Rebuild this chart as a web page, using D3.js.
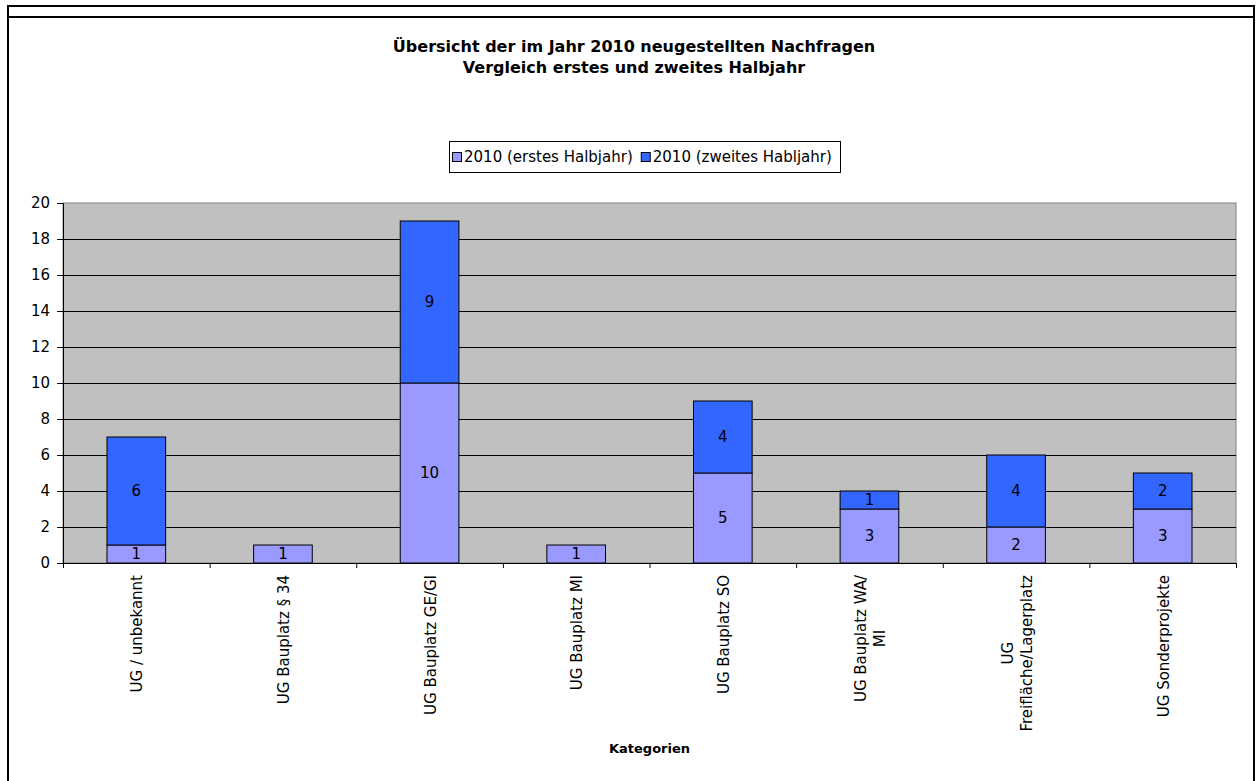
<!DOCTYPE html>
<html><head><meta charset="utf-8">
<script src="https://cdn.jsdelivr.net/npm/d3@7"></script>
<style>
html,body{margin:0;padding:0;background:#fff;}
svg{display:block;}
text{font-family:"DejaVu Sans",sans-serif;fill:#000;}
</style></head>
<body>
<svg id="chart" width="1260" height="781"></svg>
<script>
const categories = [
  ["UG / unbekannt"],
  ["UG Bauplatz § 34"],
  ["UG Bauplatz GE/GI"],
  ["UG Bauplatz MI"],
  ["UG Bauplatz SO"],
  ["UG Bauplatz WA/", "MI"],
  ["UG", "Freifläche/Lagerplatz"],
  ["UG Sonderprojekte"]
];
const firstHalf  = [1, 1, 10, 1, 5, 3, 2, 3];
const secondHalf = [6, 0, 9, 0, 4, 1, 4, 2];
const seriesNames = ["2010 (erstes Halbjahr)", "2010 (zweites Habljahr)"];
const seriesColors = ["#9999FF", "#3366FF"];
const yTicks = [0, 2, 4, 6, 8, 10, 12, 14, 16, 18, 20];
const titleLines = ["Übersicht der im Jahr 2010 neugestellten Nachfragen", "Vergleich erstes und zweites Halbjahr"];
const xTitle = "Kategorien";

const FONT = "DejaVu Sans, sans-serif";
const svg = d3.select("#chart");

// outer frame
svg.append("path").attr("d", "M8,781 V6 H1254 V781").attr("fill", "none").attr("stroke", "#000").attr("stroke-width", 2);
svg.append("line").attr("x1", 8).attr("x2", 1254).attr("y1", 17).attr("y2", 17).attr("stroke", "#000").attr("stroke-width", 2);

const L = 63, R = 1236, T = 203, B = 563;
const idx = d3.range(categories.length);
const x = d3.scaleBand().domain(idx).range([L, R]).paddingInner(0.6).paddingOuter(0.3);
const xb = d3.scaleLinear().domain([0, categories.length]).range([L, R]);
const y = d3.scaleLinear().domain([0, 20]).range([B, T]);

// plot background
svg.append("rect").attr("x", L).attr("y", T).attr("width", R - L).attr("height", B - T).attr("fill", "#C0C0C0").attr("stroke", "#808080").attr("stroke-width", 1);

// gridlines
svg.append("g").attr("transform", `translate(${L},0)`)
  .call(d3.axisLeft(y).tickValues(yTicks.filter(v => v > 0 && v < 20)).tickSize(-(R - L)).tickFormat(""))
  .call(g => g.select(".domain").remove())
  .call(g => g.selectAll("line").attr("stroke", "#000").attr("stroke-width", 1));

// stacked bars
const stackData = idx.map(i => ({i, a: firstHalf[i], b: secondHalf[i]}));
const stack = d3.stack().keys(["a", "b"])(stackData);
stack.forEach((layer, si) => {
  const g = svg.append("g");
  layer.forEach(d => {
    const v = d[1] - d[0];
    if (v <= 0) return;
    const i = d.data.i;
    g.append("rect")
      .attr("x", x(i)).attr("width", x.bandwidth())
      .attr("y", y(d[1])).attr("height", y(d[0]) - y(d[1]))
      .attr("fill", seriesColors[si]).attr("stroke", "#000").attr("stroke-width", 1);
    g.append("text")
      .attr("x", x(i) + x.bandwidth() / 2)
      .attr("y", (y(d[0]) + y(d[1])) / 2)
      .attr("dy", "0.36em")
      .attr("text-anchor", "middle")
      .attr("font-size", 15)
      .text(v);
  });
});

// y axis
svg.append("g").attr("transform", `translate(${L},0)`)
  .call(d3.axisLeft(y).tickValues(yTicks).tickSize(6).tickPadding(7))
  .call(g => g.select(".domain").attr("stroke", "#000"))
  .call(g => g.selectAll("line").attr("stroke", "#000"))
  .call(g => g.selectAll("text").attr("font-size", 15).attr("font-family", FONT).attr("fill", "#000"));

// x axis
svg.append("g").attr("transform", `translate(0,${B})`)
  .call(d3.axisBottom(xb).tickValues(d3.range(categories.length + 1)).tickSize(5).tickFormat(""))
  .call(g => g.select(".domain").attr("stroke", "#000"))
  .call(g => g.selectAll("line").attr("stroke", "#000"));

// category labels (rotated)
const labTop = 575, lineH = 19;
idx.forEach(i => {
  const lines = categories[i];
  const cx = x(i) + x.bandwidth() / 2;
  const g = svg.append("g");
  const texts = lines.map((s, k) => g.append("text").attr("font-size", 15).attr("text-anchor", "middle").text(s));
  const W = d3.max(texts, t => t.node().getComputedTextLength());
  const n = lines.length;
  texts.forEach((t, k) => {
    const off = (k - (n - 1) / 2) * lineH;
    t.attr("transform", `translate(${cx + off + 6},${labTop + W / 2}) rotate(-90)`);
  });
});

// axis title
svg.append("text").attr("x", (L + R) / 2).attr("y", 753).attr("text-anchor", "middle")
  .attr("font-size", 13).attr("font-weight", "bold").text(xTitle);

// chart title
titleLines.forEach((s, k) => {
  svg.append("text").attr("x", 634).attr("y", 52 + k * 21).attr("text-anchor", "middle")
    .attr("font-size", 16).attr("font-weight", "bold").text(s);
});

// legend
const lg = svg.append("g");
lg.append("rect").attr("x", 449.5).attr("y", 141.5).attr("width", 391).attr("height", 31).attr("fill", "#fff").attr("stroke", "#000");
let lx = 452;
seriesNames.forEach((s, k) => {
  lg.append("rect").attr("x", lx + 0.5).attr("y", 152.5).attr("width", 9).attr("height", 9).attr("fill", seriesColors[k]).attr("stroke", "#000");
  const t = lg.append("text").attr("x", lx + 12).attr("y", 162).attr("font-size", 15).text(s);
  lx += 12 + t.node().getComputedTextLength() + 8;
});
</script>
</body></html>
